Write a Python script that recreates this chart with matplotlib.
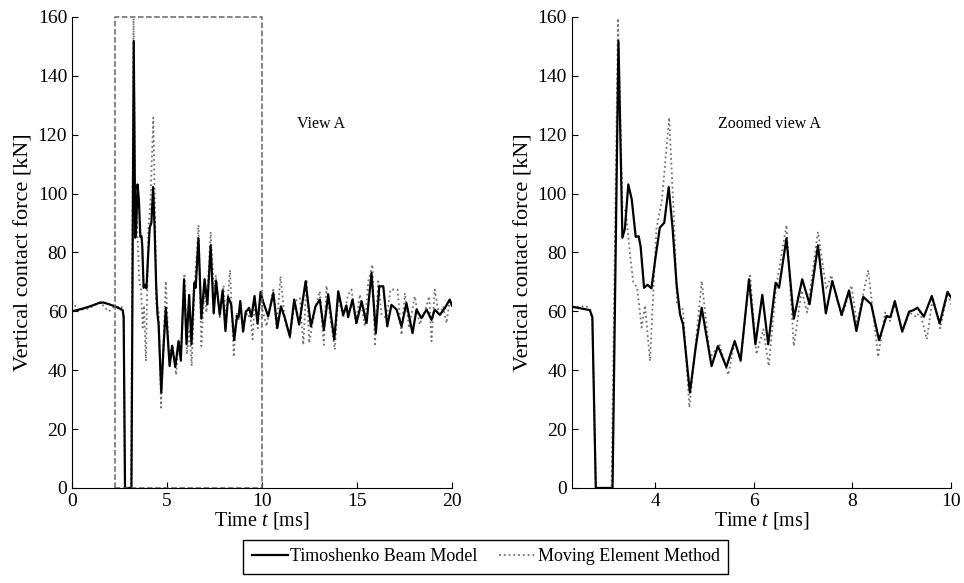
import matplotlib
matplotlib.use('Agg')
import matplotlib.pyplot as plt
from matplotlib.lines import Line2D

plt.rcParams['font.family'] = ['Liberation Serif', 'DejaVu Serif']
plt.rcParams['mathtext.fontset'] = 'custom'
plt.rcParams['mathtext.rm'] = 'Liberation Serif'
plt.rcParams['mathtext.it'] = 'Liberation Serif:italic'

# Timoshenko Beam Model (time in ms, force in kN)
t_tbm = [0.0, 0.5, 1.0, 1.4, 1.65, 2.0, 2.3, 2.67, 2.72, 2.79, 3.13, 3.25,
         3.33, 3.38, 3.45, 3.52, 3.6, 3.66, 3.7, 3.77, 3.84, 3.92, 4.0, 4.09,
         4.18, 4.27, 4.35, 4.43, 4.5, 4.56, 4.7, 4.82, 4.94, 5.14, 5.27, 5.44,
         5.61, 5.73, 5.9, 6.03, 6.17, 6.29, 6.44, 6.51, 6.66, 6.81, 6.98, 7.13,
         7.3, 7.46, 7.59, 7.78, 7.93, 8.08, 8.22, 8.38, 8.54, 8.69, 8.77, 8.86,
         9.01, 9.15, 9.24, 9.32, 9.45, 9.61, 9.77, 9.93, 10.05, 10.33, 10.6,
         10.81, 11.0, 11.21, 11.47, 11.7, 11.96, 12.3, 12.58, 12.82, 13.05,
         13.26, 13.49, 13.81, 14.02, 14.28, 14.45, 14.54, 14.77, 14.98, 15.25,
         15.51, 15.77, 16.0, 16.18, 16.39, 16.6, 16.82, 17.09, 17.35, 17.61,
         17.93, 18.14, 18.4, 18.67, 18.93, 19.1, 19.37, 19.63, 19.89, 20.0]
f_tbm = [60.0, 60.8, 61.8, 62.8, 63.0, 62.3, 61.6, 60.4, 58.0, 0.0, 0.0, 151.8,
         85.0, 88.0, 103.1, 98.0, 85.3, 85.5, 82.0, 68.0, 69.0, 67.8, 78.0, 88.4,
         90.1, 102.2, 88.0, 69.2, 59.0, 55.6, 32.4, 48.0, 61.2, 41.4, 48.2, 41.1,
         49.9, 43.4, 70.9, 48.8, 65.6, 48.8, 69.7, 68.0, 84.8, 57.5, 70.9, 62.4,
         82.4, 59.3, 70.3, 58.8, 67.1, 53.3, 64.9, 62.4, 50.2, 58.4, 58.0, 63.5,
         53.1, 59.9, 60.4, 61.2, 58.2, 65.2, 55.9, 66.6, 63.5, 58.3, 66.2,
         54.3, 61.7, 57.7, 51.5, 64.0, 55.5, 70.2, 54.9, 61.7, 64.0,
         53.7, 65.7, 50.4, 66.8, 58.8, 62.0, 58.0, 64.0, 56.0, 63.4,
         56.0, 73.0, 52.6, 68.5, 68.5, 54.9, 62.2, 60.6, 54.9, 62.8,
         52.6, 60.6, 57.7, 60.6, 57.1, 60.6, 58.8, 61.1, 64.0, 62.0]

# Moving Element Method
t_mem = [0.0, 0.3, 0.8, 1.2, 1.5, 1.75, 1.95, 2.2, 2.4, 2.6, 2.67, 2.72, 2.79,
         3.11, 3.24, 3.33, 3.4, 3.48, 3.55, 3.63, 3.72, 3.79, 3.89, 4.02, 4.13,
         4.28, 4.38, 4.44, 4.56, 4.69, 4.94, 5.11, 5.3, 5.48, 5.61, 5.73, 5.92,
         6.05, 6.19, 6.3, 6.45, 6.66, 6.81, 6.97, 7.08, 7.3, 7.47, 7.57, 7.78,
         7.98, 8.09, 8.32, 8.52, 8.66, 8.76, 8.86, 9.01, 9.16, 9.3, 9.37, 9.51,
         9.63, 9.78, 9.93, 10.05, 10.25, 10.6, 10.77, 10.98, 11.21, 11.47,
         11.74, 12.0, 12.18, 12.35, 12.49, 12.79, 13.05, 13.26, 13.4, 13.61,
         13.84, 14.02, 14.28, 14.54, 14.72, 14.95, 15.16, 15.42, 15.6, 15.82,
         15.95, 16.12, 16.3, 16.56, 16.77, 17.14, 17.35, 17.53, 17.75, 18.05,
         18.31, 18.58, 18.81, 18.93, 19.1, 19.33, 19.54, 19.72, 19.89, 20.0]
f_mem = [63.4, 60.5, 60.8, 62.0, 63.2, 61.0, 60.0, 61.5, 61.5, 61.8, 60.4, 57.0, 0.0,
         0.0, 159.5, 95.2, 94.0, 80.0, 70.0, 68.0, 54.5, 62.0, 43.1, 88.0, 97.5,
         125.8, 90.0, 62.0, 60.7, 27.3, 70.3, 44.3, 48.8, 38.4, 49.9, 43.0, 72.8,
         45.4, 53.9, 41.4, 68.0, 89.3, 48.2, 67.1, 59.6, 87.0, 67.5, 72.3, 58.0,
         68.8, 55.6, 74.0, 44.5, 59.6, 56.7, 62.4, 53.3, 59.6, 58.0, 60.0, 50.5,
         64.6, 54.2, 66.1, 60.0, 54.9, 67.9, 54.3, 71.9, 57.1, 50.9,
         63.4, 64.5, 48.6, 70.8, 49.2, 60.6, 66.8, 48.6, 68.7, 57.1,
         47.0, 65.1, 57.7, 65.7, 67.4, 55.5, 65.7, 54.9, 70.2, 75.9,
         48.1, 70.2, 58.8, 57.7, 67.4, 67.4, 52.0, 66.2, 54.3, 65.1,
         55.5, 60.0, 65.1, 49.8, 67.4, 58.3, 61.7, 56.0, 64.0, 62.0]

view_box_t = [2.25, 10.0]
view_box_f = [0, 160]

fig = plt.figure(figsize=(9.64, 5.83), dpi=100)
ax1 = fig.add_axes([0.0747, 0.163, 0.394, 0.808])
ax2 = fig.add_axes([0.593, 0.163, 0.3935, 0.808])

for ax in (ax1, ax2):
    ax.plot(t_mem, f_mem, linestyle=':', color='0.45', linewidth=1.3)
    ax.plot(t_tbm, f_tbm, linestyle='-', color='black', linewidth=1.6)
    ax.set_ylim(0, 160)
    ax.set_yticks(range(0, 161, 20))
    ax.spines['top'].set_visible(False)
    ax.spines['right'].set_visible(False)
    ax.tick_params(direction='in', labelsize=14, length=4, width=0.8)
    ax.set_xlabel('Time $t$ [ms]', fontsize=14.5, labelpad=0)
    ax.set_ylabel('Vertical contact force [kN]', fontsize=16, labelpad=3)

ax1.set_xlim(0, 20)
ax1.set_xticks([0, 5, 10, 15, 20])
ax1.plot([view_box_t[0], view_box_t[0], view_box_t[1], view_box_t[1], view_box_t[0]],
         [view_box_f[0], view_box_f[1], view_box_f[1], view_box_f[0], view_box_f[0]],
         linestyle='--', color='0.4', linewidth=1.1, clip_on=False)
ax1.text(13.1, 123.5, 'View A', fontsize=11.5, ha='center', va='center')

ax2.set_xlim(2.3, 10)
ax2.set_xticks([4, 6, 8, 10])
ax2.text(6.32, 123.5, 'Zoomed view A', fontsize=11.5, ha='center', va='center')

handles = [Line2D([], [], color='black', linewidth=1.6),
           Line2D([], [], color='0.45', linestyle=':', linewidth=1.3)]
fig.legend(handles, ['Timoshenko Beam Model', 'Moving Element Method'],
           loc='center', bbox_to_anchor=(0.504, 0.0446), ncol=2, fontsize=13,
           frameon=True, fancybox=False, edgecolor='black', framealpha=1,
           handlelength=2.0, handletextpad=0.15, columnspacing=1.2,
           borderpad=0.45)

fig.savefig('out.png', dpi=100)
